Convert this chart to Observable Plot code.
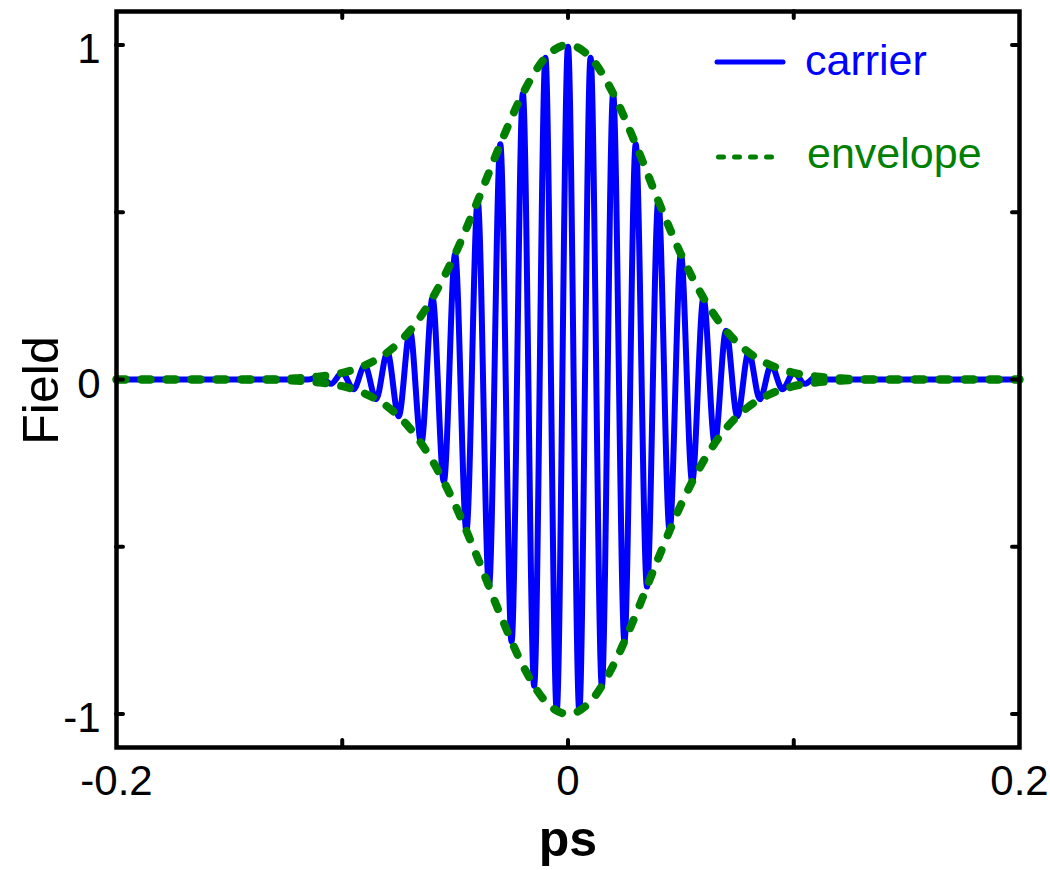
<!DOCTYPE html>
<html>
<head>
<meta charset="utf-8">
<script src="https://cdn.jsdelivr.net/npm/d3@7"></script>
<script src="https://cdn.jsdelivr.net/npm/@observablehq/plot@0.6"></script>
<style>
  html, body { margin: 0; padding: 0; background: #fff; }
  #wrap { position: relative; width: 1050px; height: 870px; }
  #legend { position: absolute; left: 0; top: 0; pointer-events: none; }
</style>
</head>
<body>
<div id="wrap"></div>
<script>
// ---- data ----
// carrier extrema (ps) and field values
const carrierT = [-0.2, -0.115,
  -0.110, -0.105, -0.100, -0.095, -0.090, -0.085, -0.080, -0.075, -0.070, -0.065,
  -0.060, -0.055, -0.050, -0.045, -0.040, -0.035, -0.030, -0.025, -0.020, -0.015,
  -0.010, -0.005, 0.000, 0.005, 0.010, 0.015, 0.020, 0.025, 0.030, 0.035,
  0.040, 0.045, 0.050, 0.055, 0.060, 0.065, 0.070, 0.075, 0.080, 0.085,
  0.090, 0.095, 0.100, 0.105, 0.110,
  0.115, 0.2];
const carrierV = [0, 0,
  0.009, -0.013, 0.020, -0.029, 0.042, -0.059, 0.081, -0.110, 0.146, -0.191,
  0.244, -0.305, 0.375, -0.452, 0.534, -0.619, 0.703, -0.783, 0.855, -0.916,
  0.962, -0.990, 0.995, -0.990, 0.962, -0.916, 0.855, -0.783, 0.703, -0.619,
  0.534, -0.452, 0.375, -0.305, 0.244, -0.191, 0.146, -0.110, 0.081, -0.059,
  0.042, -0.029, 0.020, -0.013, 0.009,
  0, 0];
// envelope (upper branch; lower branch is its mirror)
const envT = [-0.2, -0.16, -0.13, -0.12, -0.11, -0.10, -0.09, -0.08, -0.07, -0.06, -0.05,
  -0.04, -0.03, -0.02, -0.01, 0.0, 0.01, 0.02, 0.03, 0.04, 0.05, 0.06, 0.07, 0.08,
  0.09, 0.10, 0.11, 0.12, 0.13, 0.16, 0.2];
const envV = [0, 0, 0.001, 0.004, 0.009, 0.020, 0.042, 0.081, 0.146, 0.244, 0.375,
  0.534, 0.703, 0.855, 0.962, 1.0, 0.962, 0.855, 0.703, 0.534, 0.375, 0.244, 0.146, 0.081,
  0.042, 0.020, 0.009, 0.004, 0.001, 0, 0];
// ticks
const xTicks = [-0.1, 0, 0.1];
const xLabelValues = [-0.2, 0, 0.2];
const xLabelText = ["-0.2", "0", "0.2"];
const yTicks = [-1, -0.5, 0, 0.5, 1];
const yLabelValues = [-1, 0, 1];
const yLabelText = ["-1", "0", "1"];
const seriesNames = ["carrier", "envelope"];
const seriesColors = ["#0000ff", "#008000"];
const xLabel = "ps";
const yLabel = "Field";

// ---- build tables ----
const carrier = carrierT.map((t, i) => ({t, v: carrierV[i]}));
const envelope = envT.map((t, i) => ({t, v: envV[i]}));

const W = 1050, H = 870;
const mL = 116, mR = 31, mT = 11, mB = 123;
const innerW = W - mL - mR, innerH = H - mT - mB;
const tickLen = 7;

const chart = Plot.plot({
  width: W, height: H,
  marginLeft: mL, marginRight: mR, marginTop: mT, marginBottom: mB,
  x: {domain: [-0.2, 0.2]},
  y: {domain: [-1.1, 1.1]},
  style: {fontFamily: "'Liberation Sans', Arial, sans-serif", fontSize: "42px", color: "black", background: "white"},
  marks: [
    Plot.line(carrier, {x: "t", y: "v", stroke: seriesColors[0], strokeWidth: 6, curve: "monotone-x", strokeLinejoin: "round", strokeLinecap: "round"}),
    Plot.line(envelope, {x: "t", y: "v", stroke: seriesColors[1], strokeWidth: 8, curve: "monotone-x", strokeDasharray: "9,16", strokeLinecap: "round"}),
    Plot.line(envelope, {x: "t", y: d => -d.v, stroke: seriesColors[1], strokeWidth: 8, curve: "monotone-x", strokeDasharray: "9,16", strokeLinecap: "round"}),
    // inward tick marks
    Plot.tickY(yTicks, {y: d => d, stroke: "black", strokeWidth: 4, strokeLinecap: "round", insetRight: innerW - tickLen}),
    Plot.tickY(yTicks, {y: d => d, stroke: "black", strokeWidth: 4, strokeLinecap: "round", insetLeft: innerW - tickLen}),
    Plot.tickX(xTicks, {x: d => d, stroke: "black", strokeWidth: 4, strokeLinecap: "round", insetTop: innerH - tickLen}),
    Plot.tickX(xTicks, {x: d => d, stroke: "black", strokeWidth: 4, strokeLinecap: "round", insetBottom: innerH - tickLen}),
    Plot.frame({stroke: "black", strokeWidth: 4.5}),
    // tick labels
    Plot.axisY(yLabelValues, {anchor: "left", tickSize: 0, tickPadding: 16, dy: 5, fontSize: 42, label: null,
      tickFormat: d => yLabelText[yLabelValues.indexOf(d)]}),
    Plot.axisX(xLabelValues, {anchor: "bottom", tickSize: 0, tickPadding: 18, fontSize: 42, label: null,
      tickFormat: d => xLabelText[xLabelValues.indexOf(d)]}),
    // axis titles
    Plot.text([yLabel], {text: d => d, frameAnchor: "left", dx: -59, dy: 11, rotate: -90, lineAnchor: "bottom", textAnchor: "middle", fontSize: 50, fill: "black"}),
    Plot.text([xLabel], {text: d => d, frameAnchor: "bottom", dy: 108, lineAnchor: "bottom", textAnchor: "middle", fontSize: 50, fontWeight: "bold", fill: "black"})
  ]
});
document.getElementById("wrap").appendChild(chart);

// ---- legend ----
const legend = d3.select("#wrap").append("svg")
  .attr("id", "legend").attr("width", W).attr("height", 200)
  .style("font-family", "'Liberation Sans', Arial, sans-serif");
legend.append("line").attr("x1", 717).attr("x2", 783).attr("y1", 62).attr("y2", 62)
  .attr("stroke", seriesColors[0]).attr("stroke-width", 5).attr("stroke-linecap", "round");
legend.append("text").attr("x", 805).attr("y", 75).attr("font-size", 43).attr("fill", seriesColors[0]).text(seriesNames[0]);
legend.append("line").attr("x1", 718.5).attr("x2", 771.5).attr("y1", 157).attr("y2", 157)
  .attr("stroke", seriesColors[1]).attr("stroke-width", 5).attr("stroke-linecap", "round").attr("stroke-dasharray", "5,11");
legend.append("text").attr("x", 807).attr("y", 168).attr("font-size", 43).attr("fill", seriesColors[1]).text(seriesNames[1]);
</script>
</body>
</html>
